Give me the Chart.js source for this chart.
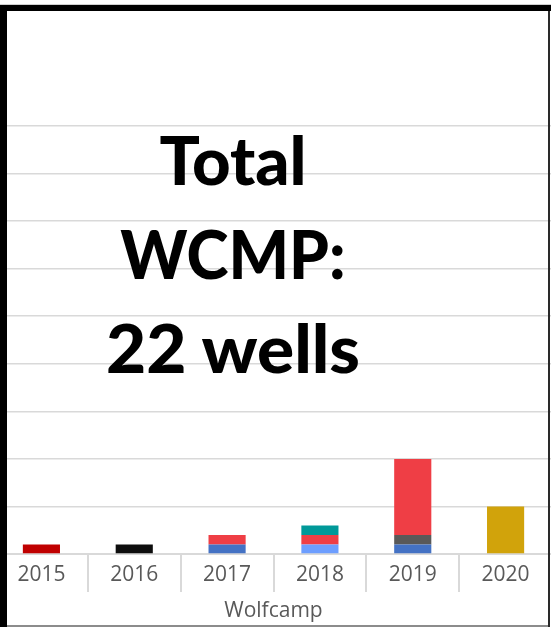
<!DOCTYPE html>
<html>
<head>
<meta charset="utf-8">
<script src="https://cdn.jsdelivr.net/npm/chart.js@4/dist/chart.umd.min.js"></script>
<style>
  html, body { margin: 0; padding: 0; background: #fff; }
  #frame { position: relative; width: 551px; height: 627px; overflow: hidden; background: #fff; }
  #chart { position: absolute; left: -5px; top: 0; }
  .edge { position: absolute; }
  #topLine { left: 0; top: 4px; width: 551px; height: 1px; background: #d0d0d0; }
  #topBar { left: 0; top: 5px; width: 551px; height: 6px; background: #000; }
  #leftBar { left: 0; top: 5px; width: 7px; height: 622px; background: #000; }
  #rightBar { left: 548px; top: 11px; width: 2px; height: 616px; background: #2a2a2a; }
  #bottomLine { left: 7px; top: 625px; width: 541px; height: 2px; background: #8c8c8c; }
  #note {
    position: absolute; left: 83px; top: 112px; width: 300px;
    font-family: Lato, "Liberation Sans", sans-serif; font-weight: 900;
    font-size: 67px; line-height: 94px; text-align: center; color: #000;
  }
  #note div { transform-origin: 150px 0; }
  #l1 { transform: scaleX(1.0); }
  #l2 { transform: scaleX(0.95); }
  #l3 { transform: scaleX(1.035); }
</style>
</head>
<body>
<div id="frame">
  <canvas id="chart" width="557" height="627"></canvas>
  <div id="note"><div id="l1">Total</div><div id="l2">WCMP:</div><div id="l3">22 wells</div></div>
  <div class="edge" id="topLine"></div>
  <div class="edge" id="topBar"></div>
  <div class="edge" id="leftBar"></div>
  <div class="edge" id="rightBar"></div>
  <div class="edge" id="bottomLine"></div>
</div>
<script>
// Wolfcamp wells per spud year, stacked by series
const years = ['2015', '2016', '2017', '2018', '2019', '2020'];
const seriesDarkRed   = [1, 0, 0, 0, 0, 0];
const seriesBlack     = [0, 1, 0, 0, 0, 0];
const seriesBlue      = [0, 0, 1, 0, 1, 0];
const seriesLightBlue = [0, 0, 0, 1, 0, 0];
const seriesGray      = [0, 0, 0, 0, 1, 0];
const seriesRed       = [0, 0, 1, 1, 8, 0];
const seriesTeal      = [0, 0, 0, 1, 0, 0];
const seriesGold      = [0, 0, 0, 0, 0, 5];
const yMax = 45;
const yStep = 5;
const axisTitle = 'Wolfcamp';

const mk = (label, data, color) => ({
  label, data, backgroundColor: color, borderWidth: 0,
  barPercentage: 0.4, categoryPercentage: 1.0
});

new Chart(document.getElementById('chart'), {
  type: 'bar',
  data: {
    labels: years,
    datasets: [
      mk('A', seriesDarkRed, '#C00000'),
      mk('B', seriesBlack, '#0D0D0D'),
      mk('C', seriesBlue, '#4472C4'),
      mk('D', seriesLightBlue, '#6D9EFF'),
      mk('E', seriesGray, '#595959'),
      mk('F', seriesRed, '#EF3E45'),
      mk('G', seriesTeal, '#009999'),
      mk('H', seriesGold, '#D1A30B')
    ]
  },
  options: {
    responsive: false,
    animation: false,
    layout: { padding: { top: 126, left: 0, right: 0, bottom: 0 } },
    plugins: { legend: { display: false }, tooltip: { enabled: false }, title: { display: false } },
    scales: {
      x: {
        stacked: true,
        afterFit(scale) { scale.height = 73; },
        grid: { display: true, drawOnChartArea: false, drawTicks: true, tickLength: 38, color: '#d9d9d9', lineWidth: 2, offset: true },
        border: { display: true, color: '#d9d9d9', width: 2 },
        ticks: { color: '#595959', padding: -30, font: { family: '"Open Sans", sans-serif', size: 21 } },
        title: { display: true, text: axisTitle, color: '#595959', padding: { top: 0, bottom: 3 }, font: { family: '"Open Sans", sans-serif', size: 21 } }
      },
      y: {
        stacked: true,
        min: 0, max: yMax,
        afterFit(scale) { scale.width = 0; },
        ticks: { display: false, stepSize: yStep },
        grid: { color: '#d9d9d9', lineWidth: 1.5, drawTicks: false },
        border: { display: false }
      }
    }
  }
});
</script>
</body>
</html>
